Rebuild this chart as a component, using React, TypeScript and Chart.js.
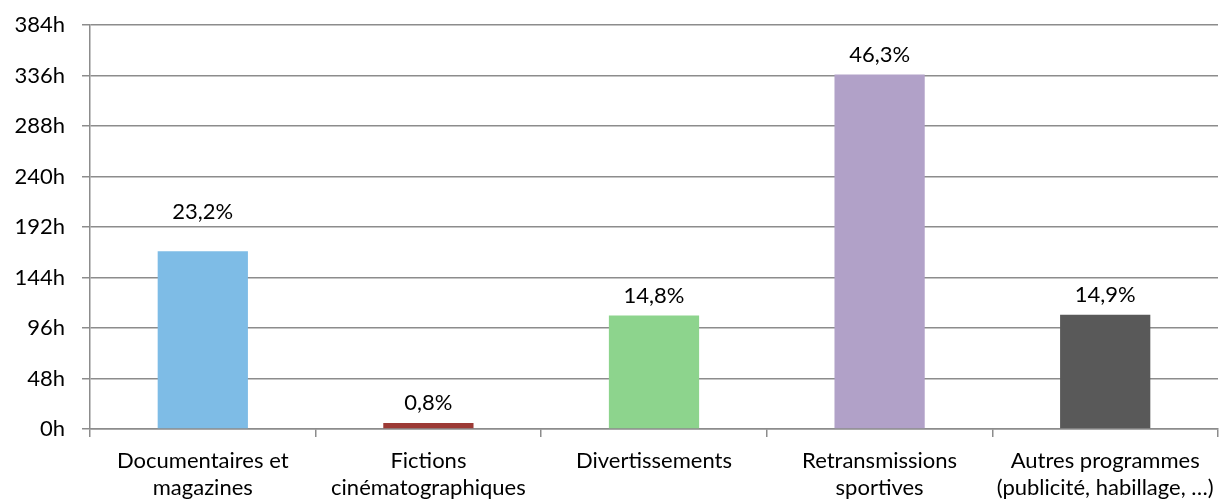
import React, { useEffect, useRef } from "react";
import { Chart, registerables } from "chart.js";

Chart.register(...registerables);

const categories: string[][] = [
  ["Documentaires et", "magazines"],
  ["Fictions", "cinématographiques"],
  ["Divertissements"],
  ["Retransmissions", "sportives"],
  ["Autres programmes", "(publicité, habillage, …)"],
];
const hours: number[] = [169, 5.8, 107.8, 337, 108.5];
const shares: string[] = ["23,2%", "0,8%", "14,8%", "46,3%", "14,9%"];
const barColors: string[] = ["#7EBCE6", "#9C3A35", "#8DD48D", "#B1A1C8", "#595959"];
const yMax = 384;
const yStep = 48;

const FONT = "Lato, 'Open Sans', sans-serif";

const labelPlugin = {
  id: "pctLabels",
  afterDatasetsDraw(chart: any, _args: any, opts: any) {
    const ctx = chart.ctx;
    const meta = chart.getDatasetMeta(0);
    ctx.save();
    ctx.font = `22px ${FONT}`;
    ctx.fillStyle = "#000";
    ctx.textAlign = "center";
    ctx.textBaseline = "middle";
    meta.data.forEach((el: any, i: number) => {
      const lift = (opts.lift && opts.lift[i]) || 20;
      ctx.fillText(shares[i], el.x, el.y - lift);
    });
    ctx.restore();
  },
};

export default function App() {
  const ref = useRef<HTMLCanvasElement>(null);
  useEffect(() => {
    document.body.style.margin = "0";
    const chart = new Chart(ref.current!, {
      type: "bar",
      data: {
        labels: categories,
        datasets: [
          {
            data: hours,
            backgroundColor: barColors,
            barPercentage: 0.4,
            categoryPercentage: 1,
          },
        ],
      },
      options: {
        animation: false,
        responsive: false,
        maintainAspectRatio: false,
        layout: { padding: { top: 25, right: 3, left: 0, bottom: 0 } },
        plugins: {
          legend: { display: false },
          tooltip: { enabled: false },
          pctLabels: { lift: [39, 20, 20, 20, 20] },
        } as any,
        scales: {
          x: {
            offset: true,
            grid: {
              offset: true,
              drawOnChartArea: false,
              tickLength: 8,
              color: "#8c8c8c",
              lineWidth: 1.5,
            },
            border: { color: "#8c8c8c", width: 1.5 },
            ticks: {
              color: "#000",
              font: { family: FONT, size: 22, lineHeight: 1.2 },
              padding: 11,
              maxRotation: 0,
              autoSkip: false,
            },
            afterFit: (s: any) => {
              s.height = 70;
              s.paddingLeft = 0;
              s.paddingRight = 0;
            },
          },
          y: {
            min: 0,
            max: yMax,
            ticks: {
              stepSize: yStep,
              color: "#000",
              font: { family: FONT, size: 22 },
              padding: 17,
              callback: (v: any) => `${v}h`,
            },
            grid: { color: "#8c8c8c", lineWidth: 1.5, tickLength: 8 },
            border: { color: "#8c8c8c", width: 1.5 },
            afterFit: (s: any) => {
              s.width = 90;
              s.paddingTop = 0;
              s.paddingBottom = 0;
            },
          },
        },
      },
      plugins: [labelPlugin],
    });
    return () => chart.destroy();
  }, []);
  return <canvas ref={ref} width={1221} height={499} style={{ display: "block" }} />;
}
